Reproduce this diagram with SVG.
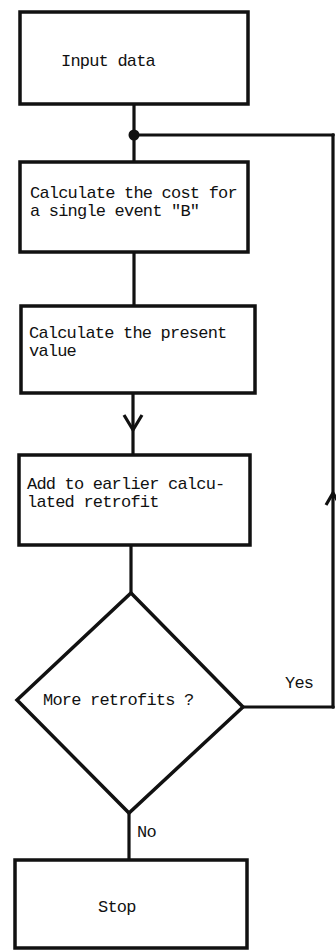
<svg xmlns="http://www.w3.org/2000/svg" width="336" height="951" viewBox="0 0 336 951">
<style>
.box{fill:#fff;stroke:#111;stroke-width:3.5;stroke-linejoin:miter}
.ln{fill:none;stroke:#111;stroke-width:3.2}
text{font-family:"Liberation Mono","DejaVu Sans Mono",monospace;font-size:17px;letter-spacing:-0.8px;fill:#111}
</style>
<rect width="336" height="951" fill="#fff"/>
<g id="connectors">
<line class="ln" x1="134" y1="104" x2="134" y2="162"/>
<circle cx="134" cy="135" r="5.5" fill="#111"/>
<polyline class="ln" points="134,135 333,135 333,707 243,707"/>
<circle cx="333" cy="707" r="1.8" fill="#111"/>
<circle cx="333" cy="135" r="1.8" fill="#111"/>
<polyline class="ln" points="326,505 333,493 340,505"/>
<line class="ln" x1="134" y1="252" x2="134" y2="306"/>
<line class="ln" x1="133" y1="393" x2="133" y2="455"/>
<polyline class="ln" points="124,415 133,430 142,415"/>
<line class="ln" x1="131" y1="545" x2="131" y2="593"/>
<line class="ln" x1="129" y1="813" x2="129" y2="860"/>
<text x="285" y="688">Yes</text>
<text x="137" y="837">No</text>
</g>
<g id="input">
<rect class="box" x="20" y="12" width="228" height="92"/>
<text x="61" y="66">Input data</text>
</g>
<g id="cost">
<rect class="box" x="20" y="162" width="228" height="90"/>
<text x="30" y="198">Calculate the cost for</text>
<text x="30" y="216">a single event "B"</text>
</g>
<g id="present">
<rect class="box" x="21" y="306" width="234" height="87"/>
<text x="29" y="338">Calculate the present</text>
<text x="29" y="356">value</text>
</g>
<g id="add">
<rect class="box" x="19" y="455" width="231" height="90"/>
<text x="27" y="489">Add to earlier calcu-</text>
<text x="27" y="507">lated retrofit</text>
</g>
<g id="decision">
<polygon class="box" points="131,593 243,707 129,813 17,700"/>
<text x="43" y="705">More retrofits ?</text>
</g>
<g id="stop">
<rect class="box" x="15" y="860" width="232" height="88"/>
<text x="98" y="912">Stop</text>
</g>
</svg>
